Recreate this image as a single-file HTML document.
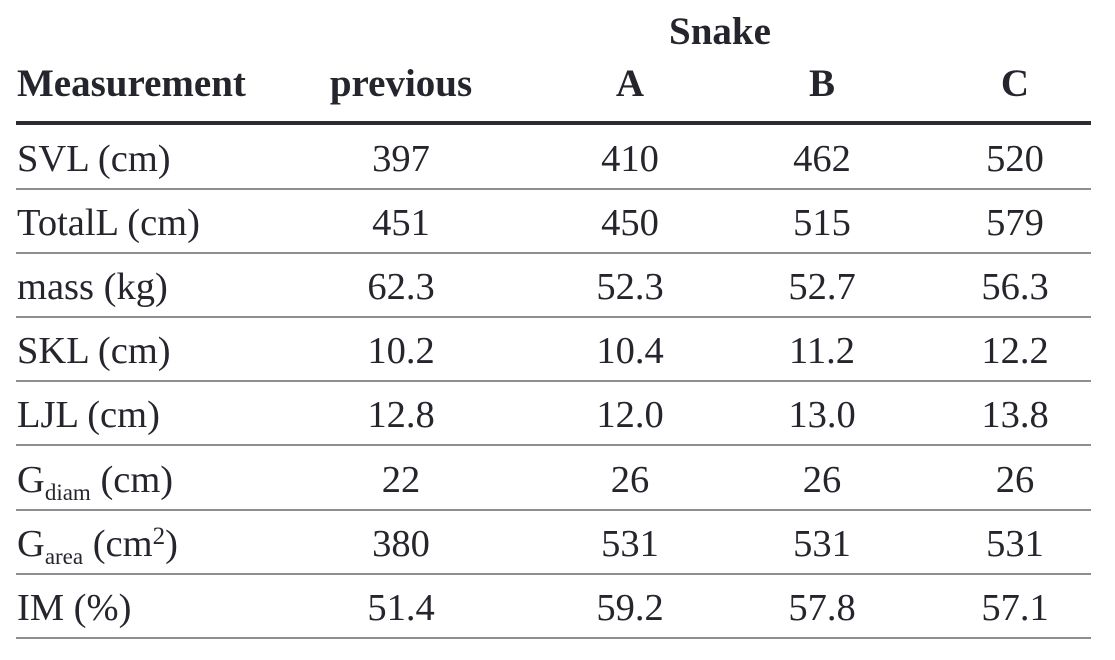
<!DOCTYPE html>
<html><head><meta charset="utf-8"><style>
body{margin:0;width:1115px;height:660px;background:#fff;position:relative;overflow:hidden;font-family:"Liberation Serif",serif;color:#25252d}
.t{position:absolute;font-size:38.5px;line-height:64px;height:64px;white-space:nowrap}
.c{text-align:center;width:240px;margin-left:-120px}
.b{font-weight:bold;font-size:39px}
.ln{position:absolute;left:16px;width:1075px;height:2px;background:#8e8e92}
sub{font-size:23px;vertical-align:-8px;line-height:0}
sup{font-size:25px;vertical-align:12px;line-height:0}
</style></head><body>
<div class="t c b" style="left:720px;top:0">Snake</div>
<div class="t b" style="left:17px;top:52px">Measurement</div>
<div class="t c b" style="left:401px;top:52px">previous</div>
<div class="t c b" style="left:630px;top:52px">A</div>
<div class="t c b" style="left:822px;top:52px">B</div>
<div class="t c b" style="left:1015px;top:52px">C</div>
<div style="position:absolute;left:16px;top:121px;width:1075px;height:4px;background:#2b2b33"></div>
<div id="rows"></div>
<script>
const labels=["SVL (cm)","TotalL (cm)","mass (kg)","SKL (cm)","LJL (cm)","G<sub>diam</sub> (cm)","G<sub>area</sub> (cm<sup>2</sup>)","IM (%)"];
const previous=["397","451","62.3","10.2","12.8","22","380","51.4"];
const snakeA=["410","450","52.3","10.4","12.0","26","531","59.2"];
const snakeB=["462","515","52.7","11.2","13.0","26","531","57.8"];
const snakeC=["520","579","56.3","12.2","13.8","26","531","57.1"];
const cols=[[previous,401],[snakeA,630],[snakeB,822],[snakeC,1015]];
const host=document.getElementById('rows');
labels.forEach((l,i)=>{
  const top=127+i*64.1;
  const d=document.createElement('div');
  d.className='t';d.style.left='17px';d.style.top=top+'px';d.innerHTML=l;
  
  
  host.appendChild(d);
  cols.forEach(([arr,x])=>{
    const e=document.createElement('div');
    e.className='t c';e.style.left=x+'px';e.style.top=top+'px';e.textContent=arr[i];
    
    
    host.appendChild(e);
  });
  const r=document.createElement('div');
  r.className='ln';r.style.top=(188+i*64.1)+'px';
  
  
  host.appendChild(r);
});
</script>
</body></html>
